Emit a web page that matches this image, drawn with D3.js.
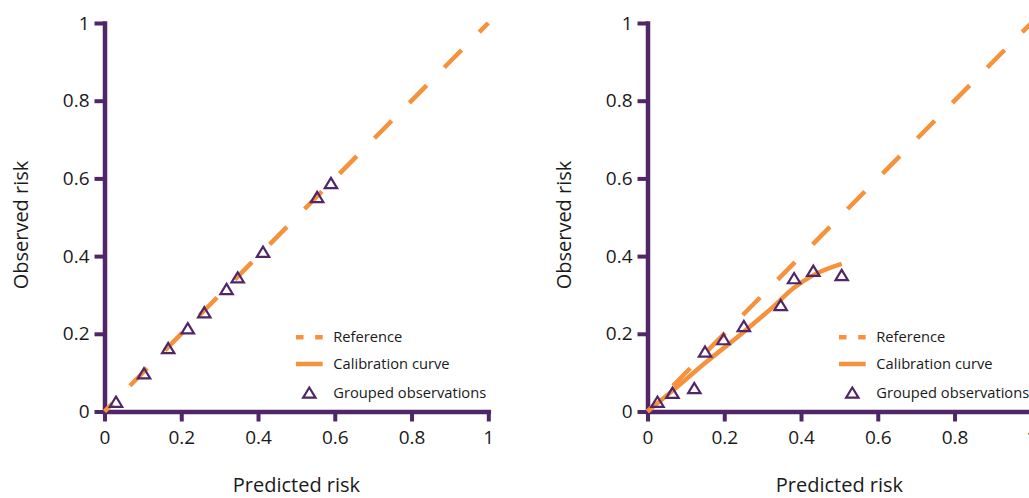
<!DOCTYPE html>
<html>
<head>
<meta charset="utf-8">
<script src="https://cdn.jsdelivr.net/npm/d3@7"></script>
<style>
  html, body { margin: 0; padding: 0; background: #fff; }
  svg { display: block; font-family: "Open Sans", sans-serif; }
</style>
</head>
<body>
<svg id="chart" width="1029" height="498"></svg>
<script>
// ---- data ----
const tickValues = [0, 0.2, 0.4, 0.6, 0.8, 1];
const refX = [0, 1];
const refY = [0, 1];

const predLeft = [0.030, 0.103, 0.166, 0.217, 0.260, 0.318, 0.347, 0.413, 0.554, 0.590];
const obsLeft  = [0.025, 0.098, 0.163, 0.214, 0.255, 0.315, 0.345, 0.411, 0.552, 0.588];
const calibLeftX = [];
const calibLeftY = [];

const predRight = [0.026, 0.065, 0.122, 0.150, 0.198, 0.251, 0.347, 0.382, 0.432, 0.506];
const obsRight  = [0.025, 0.048, 0.060, 0.154, 0.186, 0.220, 0.274, 0.343, 0.362, 0.351];
const calibRightX = [0, 0.067, 0.154, 0.241, 0.328, 0.380, 0.432, 0.506];
const calibRightY = [0, 0.055, 0.128, 0.197, 0.270, 0.317, 0.351, 0.380];

const legendLabels = ["Reference", "Calibration curve", "Grouped observations"];
const xTitle = "Predicted risk";
const yTitle = "Observed risk";

// ---- style ----
const PURPLE = "#4f2668";
const ORANGE = "#f6923b";
const TEXT = "#1a1a1a";

const svg = d3.select("#chart");

const panels = [
  { x0: 104.5, pred: predLeft, obs: obsLeft, cx: calibLeftX, cy: calibLeftY },
  { x0: 647.5, pred: predRight, obs: obsRight, cx: calibRightX, cy: calibRightY }
];

const triPath = "M0,-5.2 L6.2,5 L-6.2,5 Z";

panels.forEach(p => {
  const x = d3.scaleLinear().domain([0, 1]).range([p.x0, p.x0 + 383.8]);
  const y = d3.scaleLinear().domain([0, 1]).range([411.5, 23]);
  const g = svg.append("g");

  // axes
  const yAxis = d3.axisLeft(y).tickValues(tickValues).tickFormat(d => String(d))
    .tickSizeInner(10).tickSizeOuter(0).tickPadding(5);
  const xAxis = d3.axisBottom(x).tickValues(tickValues).tickFormat(d => String(d))
    .tickSizeInner(10).tickSizeOuter(0).tickPadding(9);

  const ya = g.append("g").attr("transform", `translate(${x(0)},0)`).call(yAxis);
  const xa = g.append("g").attr("transform", `translate(0,${y(0)})`).call(xAxis);
  [ya, xa].forEach(a => {
    a.select(".domain").attr("stroke", PURPLE).attr("stroke-width", 4.5).attr("stroke-linecap", "square");
    a.selectAll(".tick line").attr("stroke", PURPLE).attr("stroke-width", 4);
    a.selectAll(".tick text").attr("fill", TEXT).style("font-size", "19px")
      .style("font-family", "'Open Sans', sans-serif");
  });

  // axis titles
  g.append("text").attr("x", x(0.5)).attr("y", 491.5).attr("text-anchor", "middle")
    .attr("fill", TEXT).style("font-size", "20px").text(xTitle);
  g.append("text").attr("transform", `translate(${x(0) - 77},225) rotate(-90)`)
    .attr("text-anchor", "middle").attr("fill", TEXT).style("font-size", "20px").text(yTitle);

  // reference line
  const line = d3.line().x(d => x(d[0])).y(d => y(d[1]));
  const refPts = refX.map((v, i) => [v, refY[i]]);
  g.append("path").datum(refPts).attr("d", line).attr("fill", "none")
    .attr("stroke", ORANGE).attr("stroke-width", 4.5)
    .attr("stroke-dasharray", "24.6 25.1").attr("stroke-dashoffset", 13.5);

  // calibration curve
  if (p.cx.length) {
    const calPts = p.cx.map((v, i) => [v, p.cy[i]]);
    g.append("path").datum(calPts)
      .attr("d", d3.line().x(d => x(d[0])).y(d => y(d[1])).curve(d3.curveMonotoneX))
      .attr("fill", "none").attr("stroke", ORANGE).attr("stroke-width", 4.5);
  }

  // grouped observations
  const obsPts = p.pred.map((v, i) => [v, p.obs[i]]);
  g.selectAll("path.tri").data(obsPts).enter().append("path").attr("class", "tri")
    .attr("d", triPath)
    .attr("transform", d => `translate(${x(d[0])},${y(d[1])})`)
    .attr("fill", "none").attr("stroke", PURPLE).attr("stroke-width", 2.2);

  // legend
  const lx = p.x0 + 191.5;
  const tx = p.x0 + 228.8;
  const ly = [337.3, 364, 392.7];
  g.append("line").attr("x1", lx).attr("x2", lx + 26.7).attr("y1", ly[0]).attr("y2", ly[0])
    .attr("stroke", ORANGE).attr("stroke-width", 4.5).attr("stroke-dasharray", "7.5 11.7");
  g.append("line").attr("x1", lx).attr("x2", lx + 26.7).attr("y1", ly[1]).attr("y2", ly[1])
    .attr("stroke", ORANGE).attr("stroke-width", 4.5);
  g.append("path").attr("d", triPath).attr("transform", `translate(${lx + 13.3},${ly[2]})`)
    .attr("fill", "none").attr("stroke", PURPLE).attr("stroke-width", 2.2);
  legendLabels.forEach((t, i) => {
    g.append("text").attr("x", tx).attr("y", ly[i]).attr("dy", "0.35em")
      .attr("fill", TEXT).style("font-size", "14.7px").text(t);
  });
});
</script>
</body>
</html>
